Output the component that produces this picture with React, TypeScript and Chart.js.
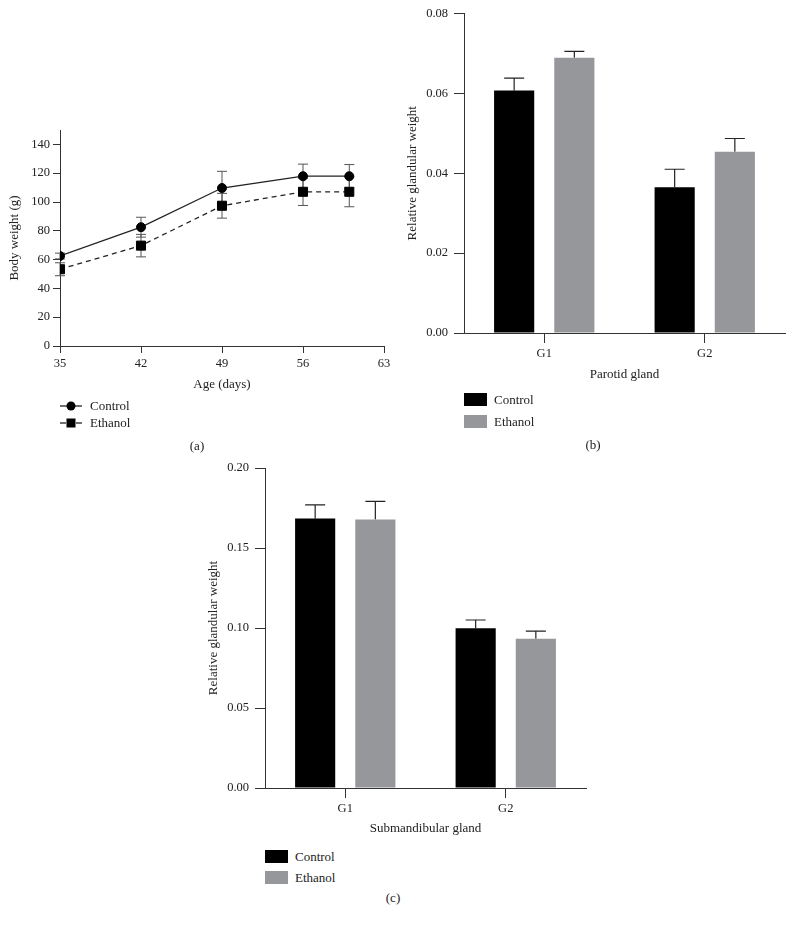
import React, { useEffect, useRef } from 'react';
import { Chart, registerables } from 'chart.js';

Chart.register(...registerables);

const FONT = "'Liberation Serif', 'Times New Roman', serif";
const INK = '#222222';
const GRAY = '#96979b';

// (a) Body weight
const ageDays = [35, 42, 49, 56, 60];
const ageTicks = [35, 42, 49, 56, 63];
const weightTicks = [0, 20, 40, 60, 80, 100, 120, 140];
const weightControl = [62.5, 82.5, 109.7, 117.9, 117.9];
const weightControlErr = [2, 6.9, 11.6, 8.4, 8.1];
const weightEthanol = [53.3, 69.7, 97.4, 107.1, 107.1];
const weightEthanolErr = [4.5, 7.8, 8.6, 9.5, 10.4];

// (b) Parotid gland
const glandGroups = ['G1', 'G2'];
const parotidTicks = [0, 0.02, 0.04, 0.06, 0.08];
const parotidControl = [0.0607, 0.0365];
const parotidControlErr = [0.0031, 0.0045];
const parotidEthanol = [0.0689, 0.0454];
const parotidEthanolErr = [0.0016, 0.0033];

// (c) Submandibular gland
const submandTicks = [0, 0.05, 0.1, 0.15, 0.2];
const submandControl = [0.1684, 0.0998];
const submandControlErr = [0.0085, 0.0052];
const submandEthanol = [0.1678, 0.0933];
const submandEthanolErr = [0.0114, 0.0048];

const errorBars = {
  id: 'errorBars',
  beforeDatasetsDraw(chart: any) {
    const { ctx } = chart;
    const yScale = chart.scales.y;
    chart.data.datasets.forEach((ds: any, di: number) => {
      const errs: number[] | undefined = ds.errors;
      if (!errs) return;
      const meta = chart.getDatasetMeta(di);
      ctx.save();
      ctx.strokeStyle = ds.errorColor || INK;
      ctx.lineWidth = ds.errorWidth || 1;
      meta.data.forEach((el: any, i: number) => {
        const raw = ds.data[i];
        const v = typeof raw === 'number' ? raw : raw.y;
        const e = errs[i];
        const x = el.x;
        const yTop = yScale.getPixelForValue(v + e);
        const yBot = ds.errorBoth ? yScale.getPixelForValue(v - e) : el.y;
        const hw = (ds.capWidth || 10) / 2;
        ctx.beginPath();
        ctx.moveTo(x, yBot);
        ctx.lineTo(x, yTop);
        ctx.moveTo(x - hw, yTop);
        ctx.lineTo(x + hw, yTop);
        if (ds.errorBoth) {
          ctx.moveTo(x - hw, yBot);
          ctx.lineTo(x + hw, yBot);
        }
        ctx.stroke();
      });
      ctx.restore();
    });
  },
};

function axisCommon(tickLength: number, tickPadding: number) {
  return {
    grid: {
      display: true,
      drawOnChartArea: false,
      drawTicks: true,
      tickLength,
      color: '#333',
      lineWidth: 1,
      offset: false,
    },
    border: { display: true, color: '#333', width: 1 },
    ticks: {
      color: INK,
      padding: tickPadding,
      font: { family: FONT, size: 12.5 },
      maxRotation: 0,
      autoSkip: false,
    },
  };
}

function lineConfig(): any {
  const xc = axisCommon(7, 3);
  const yc = axisCommon(7, 3);
  return {
    type: 'line',
    data: {
      datasets: [
        {
          label: 'Control',
          data: ageDays.map((d, i) => ({ x: d, y: weightControl[i] })),
          borderColor: INK,
          borderWidth: 1.3,
          pointStyle: 'circle',
          pointRadius: 4.5,
          pointBackgroundColor: '#000',
          pointBorderColor: '#000',
          pointBorderWidth: 1,
          errors: weightControlErr,
          errorBoth: true,
          errorColor: '#555',
          capWidth: 10,
        },
        {
          label: 'Ethanol',
          data: ageDays.map((d, i) => ({ x: d, y: weightEthanol[i] })),
          borderColor: INK,
          borderWidth: 1.3,
          borderDash: [5, 4],
          pointStyle: 'rect',
          pointRadius: 6.4,
          pointBackgroundColor: '#000',
          pointBorderColor: '#000',
          pointBorderWidth: 1,
          errors: weightEthanolErr,
          errorBoth: true,
          errorColor: '#555',
          capWidth: 10,
        },
      ],
    },
    options: {
      responsive: false,
      animation: false,
      devicePixelRatio: 1,
      layout: { padding: { left: 0, top: 20, right: 16, bottom: 0 } },
      plugins: { legend: { display: false }, tooltip: { enabled: false } },
      scales: {
        x: {
          type: 'linear',
          min: 35,
          max: 63,
          ...xc,
          afterBuildTicks: (axis: any) => {
            axis.ticks = ageTicks.map((v) => ({ value: v }));
          },
          afterFit: (axis: any) => {
            axis.height = 54;
          },
          title: {
            display: true,
            text: 'Age (days)',
            color: INK,
            font: { family: FONT, size: 13 },
            padding: { top: 0, bottom: 8 },
          },
        },
        y: {
          type: 'linear',
          min: 0,
          max: 150,
          ...yc,
          afterBuildTicks: (axis: any) => {
            axis.ticks = weightTicks.map((v) => ({ value: v }));
          },
          afterFit: (axis: any) => {
            axis.width = 60;
          },
          title: {
            display: true,
            text: 'Body weight (g)',
            color: INK,
            font: { family: FONT, size: 13 },
            padding: { top: 7, bottom: 0 },
          },
        },
      },
    },
    plugins: [errorBars],
  };
}

function barConfig(opts: {
  control: number[];
  controlErr: number[];
  ethanol: number[];
  ethanolErr: number[];
  ticks: number[];
  max: number;
  xTitle: string;
  yWidth: number;
  xHeight: number;
  padTop: number;
  padRight: number;
  yTitlePad: number;
  xTitlePad: number;
}): any {
  const xc = axisCommon(10, 3);
  const yc = axisCommon(10, 6);
  return {
    type: 'bar',
    data: {
      labels: glandGroups,
      datasets: [
        {
          label: 'Control',
          data: opts.control,
          backgroundColor: '#000',
          borderWidth: 0,
          barPercentage: 0.667,
          categoryPercentage: 0.75,
          errors: opts.controlErr,
          errorColor: INK,
          capWidth: 20,
          errorWidth: 1.2,
        },
        {
          label: 'Ethanol',
          data: opts.ethanol,
          backgroundColor: GRAY,
          borderWidth: 0,
          barPercentage: 0.667,
          categoryPercentage: 0.75,
          errors: opts.ethanolErr,
          errorColor: INK,
          capWidth: 20,
          errorWidth: 1.2,
        },
      ],
    },
    options: {
      responsive: false,
      animation: false,
      devicePixelRatio: 1,
      layout: { padding: { left: 0, top: opts.padTop, right: opts.padRight, bottom: 0 } },
      plugins: { legend: { display: false }, tooltip: { enabled: false } },
      scales: {
        x: {
          type: 'category',
          offset: true,
          ...xc,
          afterFit: (axis: any) => {
            axis.height = opts.xHeight;
          },
          title: {
            display: true,
            text: opts.xTitle,
            color: INK,
            font: { family: FONT, size: 13 },
            padding: { top: 0, bottom: opts.xTitlePad },
          },
        },
        y: {
          type: 'linear',
          min: 0,
          max: opts.max,
          ...yc,
          ticks: { ...yc.ticks, callback: (v: any) => Number(v).toFixed(2) },
          afterBuildTicks: (axis: any) => {
            axis.ticks = opts.ticks.map((v) => ({ value: v }));
          },
          afterFit: (axis: any) => {
            axis.width = opts.yWidth;
          },
          title: {
            display: true,
            text: 'Relative glandular weight',
            color: INK,
            font: { family: FONT, size: 13 },
            padding: { top: opts.yTitlePad, bottom: 0 },
          },
        },
      },
    },
    plugins: [errorBars],
  };
}

function ChartCanvas(props: { make: () => any; left: number; top: number; width: number; height: number }) {
  const ref = useRef<HTMLCanvasElement>(null);
  useEffect(() => {
    const chart = new Chart(ref.current as HTMLCanvasElement, props.make());
    return () => chart.destroy();
  }, []);
  return (
    <canvas
      ref={ref}
      width={props.width}
      height={props.height}
      style={{ position: 'absolute', left: props.left, top: props.top, width: props.width, height: props.height }}
    />
  );
}

const textStyle: React.CSSProperties = {
  position: 'absolute',
  fontFamily: FONT,
  fontSize: 13,
  color: INK,
  lineHeight: '16px',
  whiteSpace: 'nowrap',
};

function Label(props: { x: number; y: number; text: string; center?: boolean }) {
  return (
    <div
      style={{
        ...textStyle,
        left: props.x,
        top: props.y,
        transform: props.center ? 'translate(-50%, -50%)' : 'translate(0, -50%)',
      }}
    >
      {props.text}
    </div>
  );
}

function Swatch(props: { x: number; y: number; color: string }) {
  return (
    <div
      style={{ position: 'absolute', left: props.x, top: props.y, width: 23, height: 13, background: props.color }}
    />
  );
}

export default function App() {
  return (
    <div style={{ position: 'absolute', left: 0, top: 0, width: 793, height: 928, background: '#fff', overflow: 'hidden' }}>
      <ChartCanvas make={lineConfig} left={0} top={110} width={400} height={290} />
      <ChartCanvas
        make={() =>
          barConfig({
            control: parotidControl,
            controlErr: parotidControlErr,
            ethanol: parotidEthanol,
            ethanolErr: parotidEthanolErr,
            ticks: parotidTicks,
            max: 0.08,
            xTitle: 'Parotid gland',
            yWidth: 69,
            xHeight: 57,
            padTop: 13,
            padRight: 8,
            yTitlePad: 10,
            xTitlePad: 8,
          })
        }
        left={395}
        top={0}
        width={398}
        height={390}
      />
      <ChartCanvas
        make={() =>
          barConfig({
            control: submandControl,
            controlErr: submandControlErr,
            ethanol: submandEthanol,
            ethanolErr: submandEthanolErr,
            ticks: submandTicks,
            max: 0.2,
            xTitle: 'Submandibular gland',
            yWidth: 70,
            xHeight: 52,
            padTop: 18,
            padRight: 14,
            yTitlePad: 10.5,
            xTitlePad: 3.5,
          })
        }
        left={195}
        top={450}
        width={405}
        height={390}
      />

      {/* legend (a) */}
      <svg style={{ position: 'absolute', left: 58, top: 399 }} width={26} height={32}>
        <line x1={2} y1={7} x2={24} y2={7} stroke={INK} strokeWidth={1.3} />
        <circle cx={13} cy={7} r={4.5} fill="#000" />
        <line x1={2} y1={24} x2={8} y2={24} stroke={INK} strokeWidth={1.3} />
        <line x1={18} y1={24} x2={24} y2={24} stroke={INK} strokeWidth={1.3} />
        <rect x={8.5} y={19.5} width={9} height={9} fill="#000" />
      </svg>
      <Label x={90} y={406} text="Control" />
      <Label x={90} y={423} text="Ethanol" />
      <Label x={197} y={446} text="(a)" center />

      {/* legend (b) */}
      <Swatch x={464} y={393} color="#000" />
      <Swatch x={464} y={415} color={GRAY} />
      <Label x={494} y={400} text="Control" />
      <Label x={494} y={421.5} text="Ethanol" />
      <Label x={593} y={445} text="(b)" center />

      {/* legend (c) */}
      <Swatch x={265} y={850} color="#000" />
      <Swatch x={265} y={871} color={GRAY} />
      <Label x={295} y={856.5} text="Control" />
      <Label x={295} y={877.5} text="Ethanol" />
      <Label x={393} y={898} text="(c)" center />
    </div>
  );
}
